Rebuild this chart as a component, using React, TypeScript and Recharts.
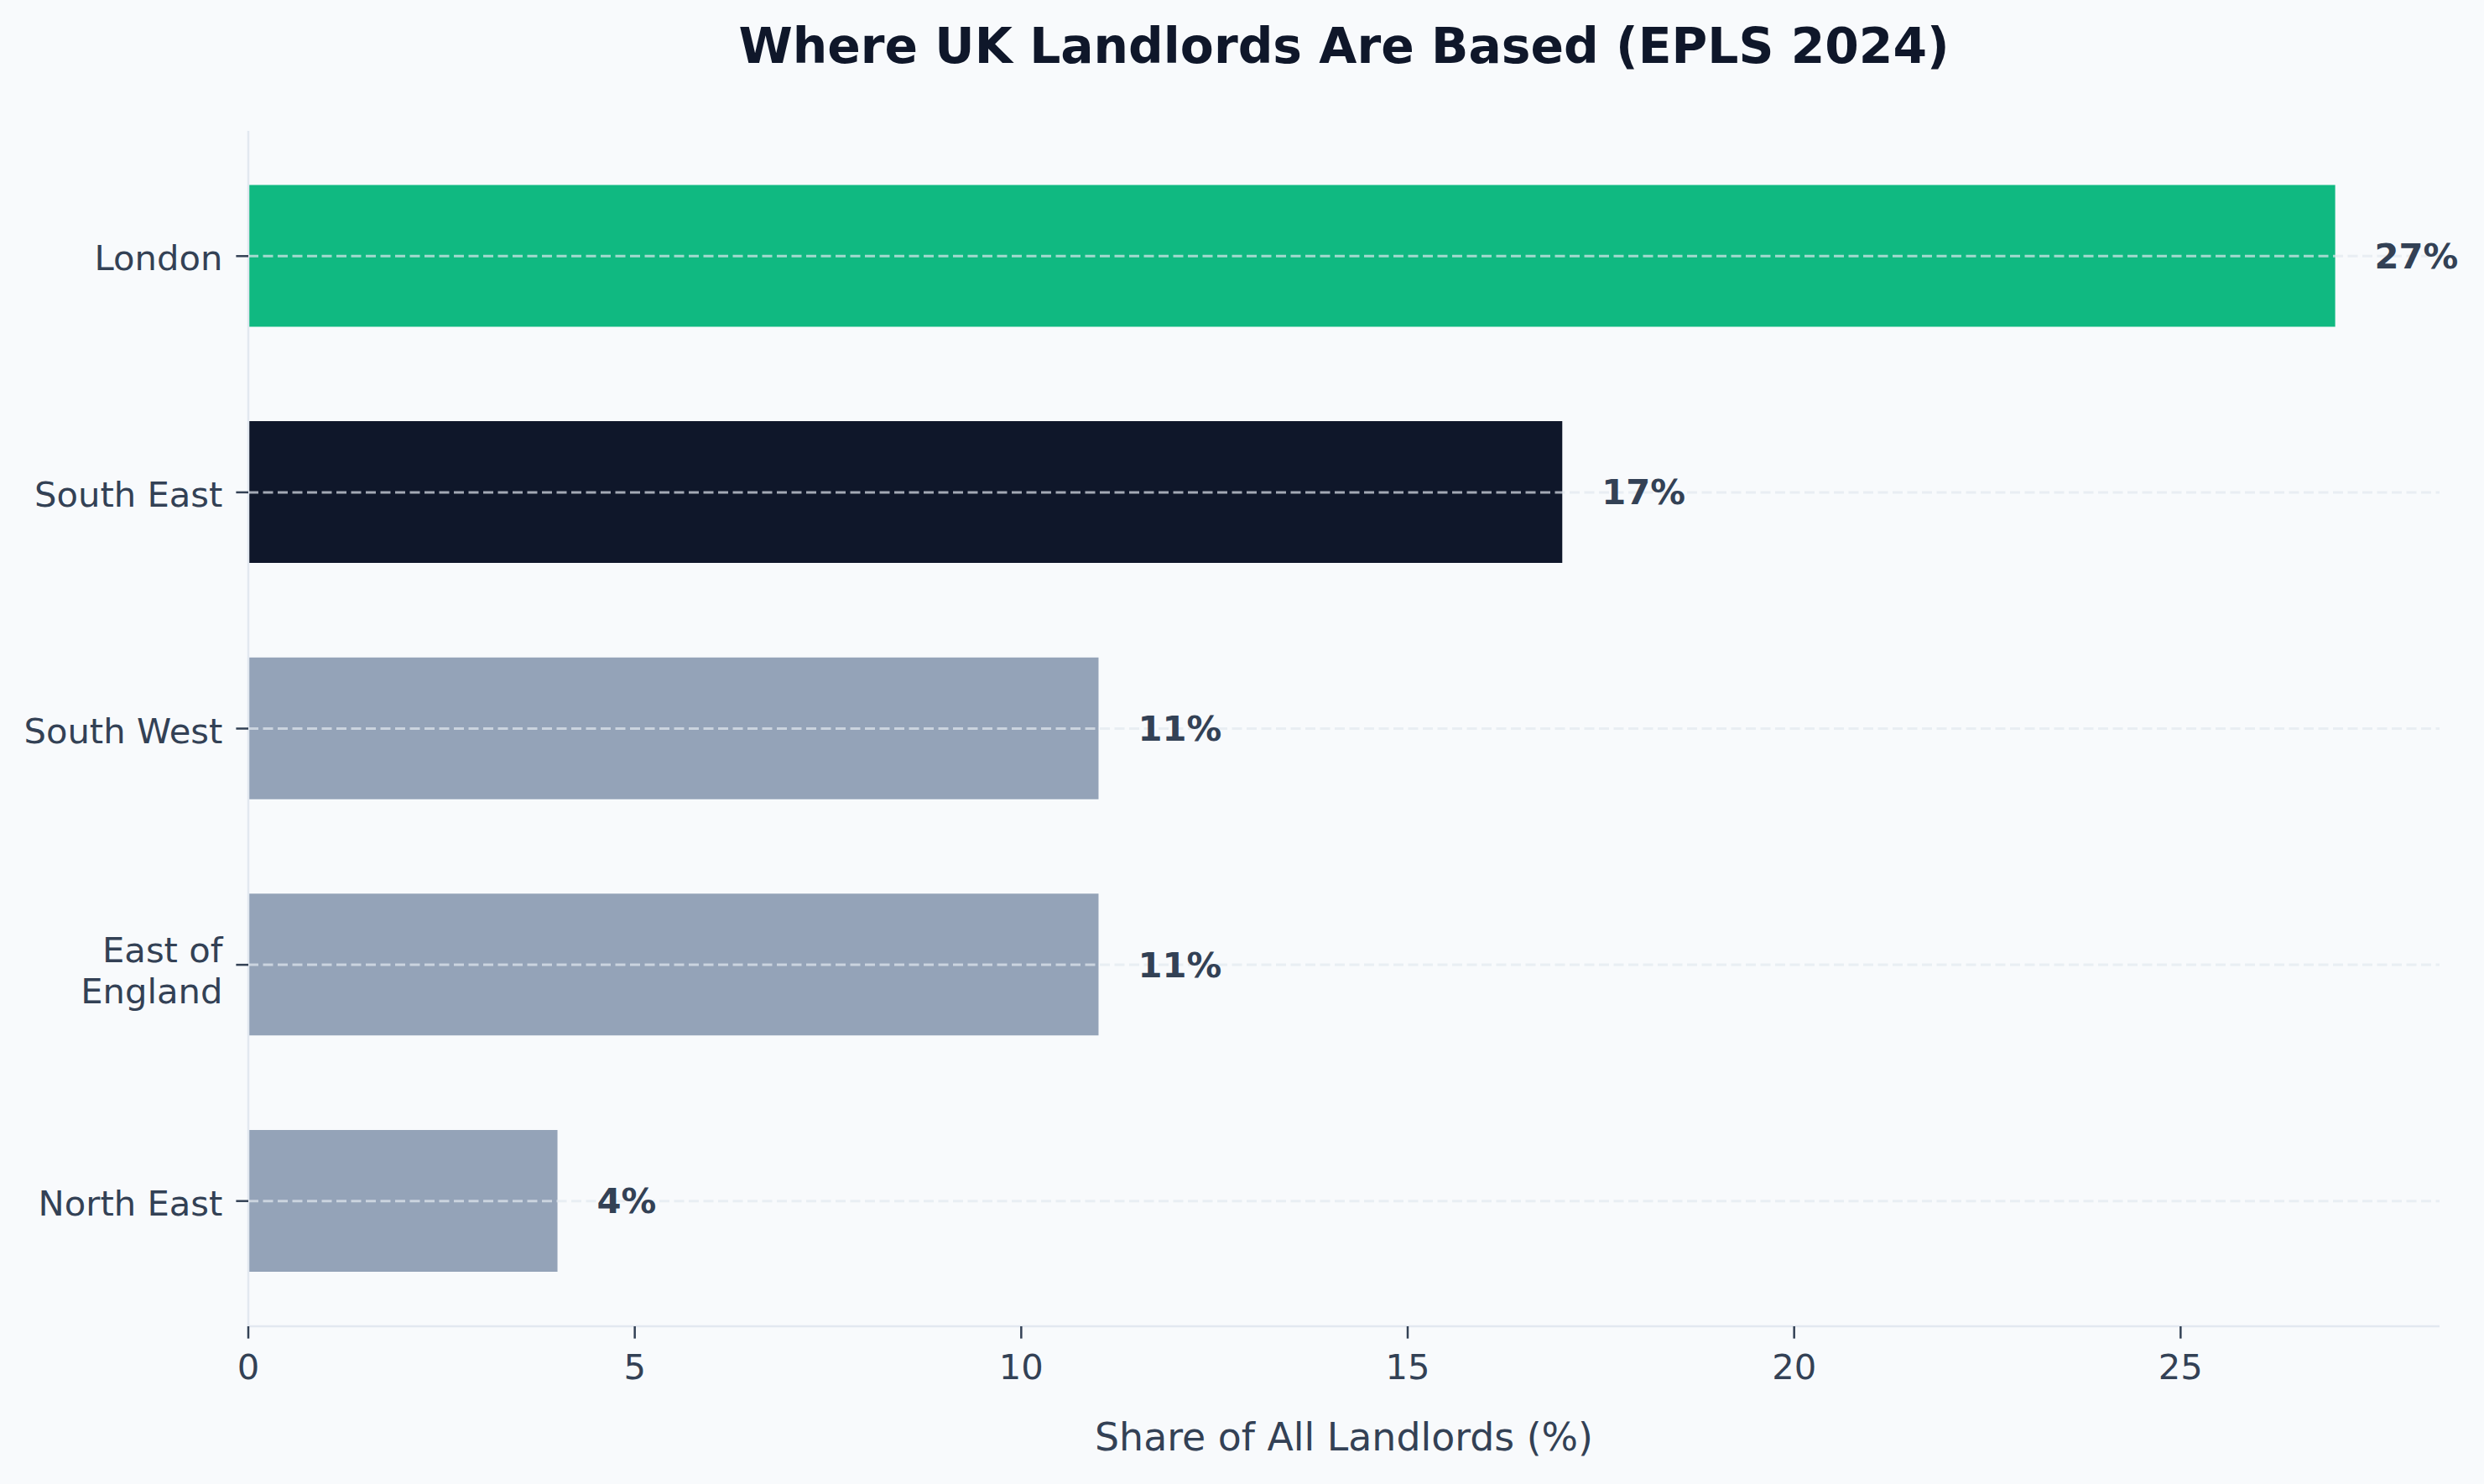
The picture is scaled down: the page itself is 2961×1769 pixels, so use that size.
import React from 'react';
import { BarChart, Bar, XAxis, YAxis, Cell, LabelList, ReferenceLine } from 'recharts';

const regions = ['London', 'South East', 'South West', 'East of\nEngland', 'North East'];
const shares = [27, 17, 11, 11, 4];
const xTicks = [0, 5, 10, 15, 20, 25];
const barColors = ['#10b981', '#0f172a', '#94a3b8', '#94a3b8', '#94a3b8'];

const W = 2961;
const H = 1769;
const FONT = '"DejaVu Sans", sans-serif';
const TEXT = '#334155';

const data = regions.map((region, i) => ({ region, share: shares[i] }));

const YTick = (props: any) => {
  const { x, y, payload } = props;
  const lines = String(payload.value).split('\n');
  const start = 17 - (lines.length - 1) * 20;
  return (
    <text x={x} y={y} textAnchor="end" fill={TEXT} fontSize={41.7} fontFamily={FONT}>
      {lines.map((l, i) => (
        <tspan key={i} x={x} dy={i === 0 ? start : 49}>
          {l}
        </tspan>
      ))}
    </text>
  );
};

export default function App() {
  return (
    <div style={{ position: 'absolute', left: 0, top: 0, width: W, height: H, background: '#f8fafc' }}>
      <BarChart
        width={W}
        height={H}
        data={data}
        layout="vertical"
        margin={{ top: 156, right: 53, bottom: 0, left: 0 }}
      >
        <XAxis
          type="number"
          domain={[0, 28.35]}
          ticks={xTicks}
          height={188}
          axisLine={{ stroke: '#e2e8f0', strokeWidth: 2.5 }}
          tickLine={{ stroke: TEXT, strokeWidth: 2.5 }}
          tickSize={14.6}
          tickMargin={19}
          tick={{ fill: TEXT, fontSize: 41.7, fontFamily: FONT }}
        />
        <YAxis
          type="category"
          dataKey="region"
          width={296}
          padding={{ top: 8.5, bottom: 8.5 }}
          axisLine={{ stroke: '#e2e8f0', strokeWidth: 2.5 }}
          tickLine={{ stroke: TEXT, strokeWidth: 2.5 }}
          tickSize={14.6}
          tickMargin={16}
          tick={<YTick />}
          interval={0}
        />
        <Bar dataKey="share" barSize={169} isAnimationActive={false}>
          {data.map((d, i) => (
            <Cell key={d.region} fill={barColors[i]} />
          ))}
          <LabelList
            dataKey="share"
            position="right"
            offset={47}
            formatter={(v: any) => `${v}%`}
            fill={TEXT}
            fontSize={41.7}
            fontWeight="bold"
            fontFamily={FONT}
          />
        </Bar>
        {regions.map((r) => (
          <ReferenceLine
            key={r}
            y={r}
            stroke="#e2e8f0"
            strokeOpacity={0.7}
            strokeWidth={3}
            strokeDasharray="12 5.5"
          />
        ))}
      </BarChart>
      <svg
        width={W}
        height={H}
        style={{ position: 'absolute', left: 0, top: 0, pointerEvents: 'none' }}
      >
        <text x={1602} y={75} textAnchor="middle" fontSize={58.3} fontWeight="bold" fill="#0f172a" fontFamily={FONT}>
          Where UK Landlords Are Based (EPLS 2024)
        </text>
        <text x={1602} y={1729} textAnchor="middle" fontSize={45.8} fill={TEXT} fontFamily={FONT}>
          Share of All Landlords (%)
        </text>
      </svg>
    </div>
  );
}
